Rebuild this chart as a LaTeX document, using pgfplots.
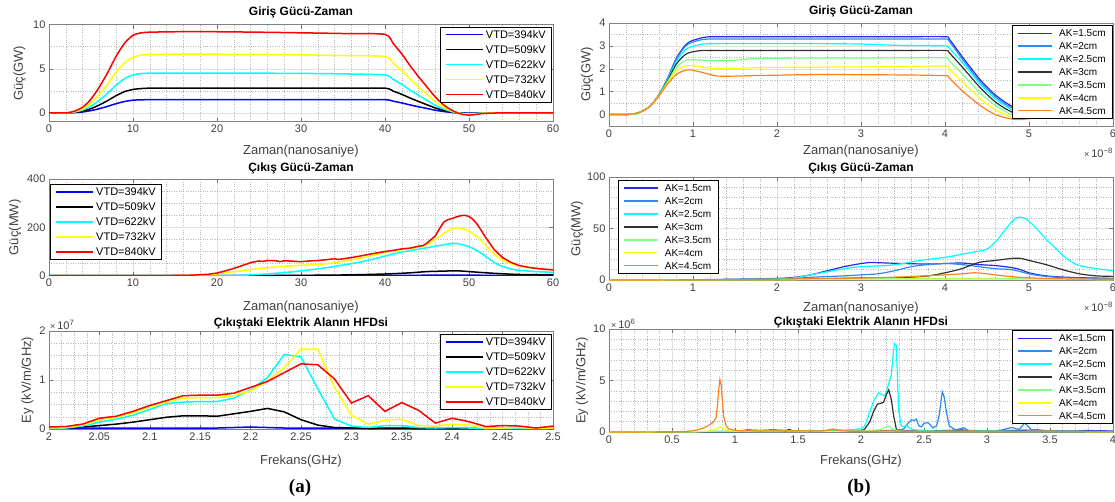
\documentclass[border=0pt]{standalone}
\usepackage{pgfplots}
\usepackage{pgfplotstable}
\pgfplotsset{compat=1.18}
\usepackage{fontspec}
\setmainfont{Liberation Sans}
\newfontfamily\serifbold{Liberation Serif}
\definecolor{tl}{HTML}{404040}
\definecolor{vB}{RGB}{0,0,255}
\definecolor{vK}{RGB}{0,0,0}
\definecolor{vC}{RGB}{0,255,255}
\definecolor{vY}{RGB}{255,255,0}
\definecolor{vR}{RGB}{255,0,0}
\definecolor{cA}{RGB}{40,40,245}
\definecolor{cB}{RGB}{40,140,240}
\definecolor{cC}{RGB}{0,255,255}
\definecolor{cD}{RGB}{50,50,50}
\definecolor{cE}{RGB}{128,255,128}
\definecolor{cF}{RGB}{255,255,0}
\definecolor{cG}{RGB}{255,128,30}

\pgfplotstableread{
t b k c y r
0 0 0 0 0 0
2 0 0 0 0 0
3 0.03 0.06 0.09 0.13 0.18
4 0.10 0.20 0.32 0.46 0.64
5 0.26 0.48 0.77 1.12 1.56
6 0.48 0.90 1.44 2.11 2.94
7 0.75 1.40 2.25 3.30 4.60
8 1.05 1.96 3.15 4.62 6.44
9 1.29 2.41 3.87 5.68 7.91
10 1.44 2.66 4.30 6.30 8.80
11 1.48 2.76 4.46 6.55 9.08
12 1.50 2.80 4.50 6.62 9.15
15 1.50 2.80 4.52 6.65 9.20
20 1.50 2.80 4.52 6.65 9.20
25 1.50 2.80 4.50 6.63 9.15
30 1.50 2.80 4.48 6.58 9.08
35 1.50 2.80 4.42 6.50 9.00
40 1.50 2.80 4.30 6.40 8.90
41 1.32 2.46 3.78 5.63 7.83
42 1.13 2.10 3.23 4.80 6.68
43 0.90 1.68 2.58 3.84 5.34
44 0.69 1.29 1.98 2.94 4.09
45 0.50 0.92 1.42 2.11 2.94
46 0.30 0.56 0.86 1.28 1.78
47 0.15 0.28 0.43 0.64 0.89
48 0.05 0.08 0.13 0.19 0.27
49 0.00 -0.03 -0.04 -0.06 -0.12
50 -0.02 -0.06 -0.09 -0.13 -0.25
51 -0.01 -0.03 -0.05 -0.07 -0.15
52 0 0 -0.01 -0.02 -0.05
54 0 0 0 0 0
60 0 0 0 0 0
}\tIn

\pgfplotstableread{
t a15 a2 a25 a3 a35 a4 a45
0 0 0 0 0 0 0 0
0.2 0 0 0 0 0 0 0
0.3 0.03 0.03 0.03 0.03 0.03 0.03 0.03
0.4 0.15 0.15 0.15 0.15 0.15 0.15 0.15
0.5 0.40 0.40 0.40 0.40 0.40 0.40 0.40
0.6 0.90 0.90 0.88 0.87 0.86 0.85 0.84
0.7 1.60 1.58 1.55 1.50 1.45 1.40 1.35
0.8 2.45 2.40 2.30 2.20 2.05 1.90 1.75
0.9 3.00 2.95 2.80 2.60 2.35 2.12 1.93
0.97 3.20 3.13 2.95 2.72 2.40 2.15 1.95
1.1 3.35 3.27 3.07 2.80 2.38 2.08 1.85
1.2 3.40 3.30 3.10 2.80 2.36 2.03 1.75
1.3 3.40 3.30 3.10 2.80 2.35 2.00 1.68
1.5 3.40 3.30 3.10 2.80 2.37 2.01 1.68
1.7 3.40 3.30 3.10 2.80 2.44 2.04 1.70
2 3.40 3.30 3.10 2.80 2.46 2.06 1.72
2.5 3.40 3.30 3.10 2.80 2.47 2.07 1.75
3 3.40 3.30 3.08 2.80 2.47 2.08 1.74
3.5 3.40 3.30 3.02 2.80 2.48 2.10 1.73
4 3.40 3.30 3.00 2.80 2.48 2.12 1.70
4.05 3.30 3.20 2.90 2.70 2.35 2.00 1.60
4.2 2.55 2.45 2.30 2.10 1.80 1.45 1.05
4.4 1.60 1.50 1.40 1.25 1.00 0.75 0.45
4.5 1.20 1.12 1.02 0.88 0.68 0.45 0.20
4.6 0.85 0.78 0.68 0.55 0.40 0.20 0.00
4.7 0.58 0.50 0.42 0.30 0.17 0.03 -0.12
4.8 0.35 0.28 0.20 0.10 -0.02 -0.15 -0.20
4.9 0.18 0.12 0.05 -0.05 -0.12 -0.20 -0.22
5.0 0.05 0.00 -0.05 -0.12 -0.15 -0.18 -0.17
5.1 -0.03 -0.06 -0.09 -0.12 -0.13 -0.13 -0.10
5.2 -0.05 -0.06 -0.07 -0.08 -0.08 -0.08 -0.05
5.4 -0.01 -0.02 -0.02 -0.02 -0.02 -0.02 -0.01
5.6 0 0 0 0 0 0 0
6 0 0 0 0 0 0 0
}\tInB

\pgfplotstableread{
f b k c y r
2.0000 0.02 0.01 0.01 0.02 0.04
2.0167 0.02 0.02 0.02 0.03 0.05
2.0333 0.02 0.04 0.06 0.08 0.10
2.0500 0.02 0.07 0.14 0.18 0.22
2.0667 0.02 0.10 0.20 0.24 0.26
2.0833 0.02 0.14 0.28 0.33 0.36
2.1000 0.02 0.19 0.40 0.45 0.48
2.1167 0.02 0.24 0.52 0.55 0.58
2.1333 0.02 0.27 0.55 0.63 0.68
2.1500 0.02 0.27 0.56 0.64 0.69
2.1667 0.02 0.26 0.56 0.64 0.69
2.1833 0.03 0.31 0.63 0.68 0.73
2.2000 0.04 0.36 0.80 0.78 0.85
2.2167 0.03 0.42 1.05 0.98 0.97
2.2333 0.02 0.35 1.52 1.25 1.15
2.2500 0.02 0.19 1.47 1.63 1.33
2.2667 0.02 0.08 0.82 1.63 1.31
2.2833 0.02 0.03 0.20 0.85 1.02
2.3000 0.02 0.02 0.06 0.28 0.53
2.3167 0.01 0.01 0.03 0.10 0.68
2.3333 0.01 0.02 0.07 0.18 0.36
2.3500 0.01 0.02 0.07 0.20 0.54
2.3667 0.01 0.01 0.03 0.07 0.38
2.3833 0.01 0.01 0.02 0.06 0.12
2.4000 0.01 0.01 0.03 0.10 0.22
2.4167 0.01 0.01 0.02 0.08 0.15
2.4333 0.01 0.01 0.01 0.01 0.05
2.4500 0.01 0.01 0.01 0.02 0.07
2.4667 0.01 0.01 0.01 0.03 0.06
2.4833 0.01 0.01 0.01 0.01 0.02
2.5000 0.01 0.01 0.01 0.02 0.06
}\tHL

\pgfplotsset{
  mat/.style={scale only axis, width=504pt, anchor=south west,
    axis line style={draw=black!50, line width=0.6pt},
    tick style={draw=black!55, line width=0.5pt}, tick align=inside,
    major tick length=4pt, minor tick length=0pt,
    grid=both,
    major grid style={draw=black!12, line width=0.5pt},
    minor grid style={draw=black!28, dotted, line width=0.5pt},
    ticklabel style={font=\fontsize{11}{13}\selectfont, text=tl},
    /pgf/number format/assume math mode=true,
    xlabel style={font=\fontsize{13}{15}\selectfont, text=tl, at={(axis description cs:0.5,0)}, anchor=center},
    ylabel style={font=\fontsize{13}{15}\selectfont, text=tl, anchor=center},
    title style={font=\bfseries\fontsize{12}{14}\selectfont, at={(axis description cs:0.5,1)}, anchor=center},
    legend cell align=left,
    scaled ticks=false,
  },
  legL/.style={legend style={line width=0.8pt, fill=white,
      font=\fontsize{11}{13}\selectfont, inner xsep=5pt, inner ysep=2.25pt,
      row sep=4.5pt, column sep=1pt,
      nodes={inner xsep=1pt, inner ysep=1pt, text height=8pt, text depth=0.5pt}},
    legend image code/.code={\draw[##1, line width=1.8pt] (0pt,0pt) -- (37pt,0pt);}},
  legR/.style={legend style={line width=0.8pt, fill=white,
      font=\fontsize{10}{12}\selectfont, inner xsep=5pt, inner ysep=3pt,
      row sep=3.2pt, column sep=4pt,
      nodes={inner xsep=2pt, inner ysep=1pt, text height=7.2pt, text depth=0.5pt}},
    legend image code/.code={\draw[##1, line width=1.5pt] (0pt,0pt) -- (34pt,0pt);}},
}

\begin{document}
\begin{tikzpicture}[x=1pt,y=1pt]
\useasboundingbox (0pt,0pt) rectangle (1115pt,501pt);

% ---------- Left row 1
\begin{axis}[mat, at={(49pt,379.3pt)}, height=97pt,
  xmin=0, xmax=60, ymin=-1, ymax=10,
  xtick={0,10,20,30,40,50,60}, ytick={0,5,10},
  minor x tick num=4, minor y tick num=1,
  title={Giriş Gücü-Zaman}, title style={yshift=6.7pt},
  xlabel={Zaman(nanosaniye)}, xlabel style={yshift=-29.5pt},
  ylabel={Güç(GW)}, ylabel style={at={(axis description cs:-0.0585,0.5)}},
  legL, legend style={at={(1,1)}, anchor=north east, xshift=-1pt, yshift=-2pt},
  every axis plot/.append style={line width=1.5pt, smooth, tension=0.4}]
\addplot[vB] table[x=t,y=b]{\tIn}; \addlegendentry{VTD=394kV}
\addplot[vK] table[x=t,y=k]{\tIn}; \addlegendentry{VTD=509kV}
\addplot[vC] table[x=t,y=c]{\tIn}; \addlegendentry{VTD=622kV}
\addplot[vY] table[x=t,y=y]{\tIn}; \addlegendentry{VTD=732kV}
\addplot[vR] table[x=t,y=r]{\tIn}; \addlegendentry{VTD=840kV}
\end{axis}

% ---------- Left row 2
\begin{axis}[mat, at={(49pt,225.3pt)}, height=96.7pt,
  xmin=0, xmax=60, ymin=0, ymax=400,
  xtick={0,10,20,30,40,50,60}, ytick={0,200,400},
  minor x tick num=4, minor y tick num=3,
  title={Çıkış Gücü-Zaman}, title style={yshift=5pt},
  xlabel={Zaman(nanosaniye)}, xlabel style={yshift=-31pt},
  ylabel={Güç(MW)}, ylabel style={at={(axis description cs:-0.0675,0.5)}},
  legL, legend style={at={(0,1)}, anchor=north west, xshift=1pt, yshift=-5pt},
  every axis plot/.append style={line width=1.5pt}]
\addplot[vB] coordinates {(0,0) (30,0.2) (40,1) (45,2) (50,2) (55,1.5) (60,1)}; \addlegendentry{VTD=394kV}
\addplot[vK,smooth] coordinates {(0,0) (20,0) (25,0.5) (30,1.5) (35,3) (40,7) (43,12) (45,17) (47,19) (48,20) (49,19.5) (50,17) (52,12) (54,8) (56,5) (58,4) (60,3)}; \addlegendentry{VTD=509kV}
\addplot[vC,smooth] coordinates {(0,0) (20,0.5) (23,2) (25,5) (27,10) (29,16) (31,24) (33,33) (35,44) (37,56) (39,72) (41,90) (43,104) (45,116) (47,128) (48,133) (48.5,134) (49,130) (50,120) (51,103) (52,80) (53,55) (54,38) (55,28) (56,22) (58,17) (60,14)}; \addlegendentry{VTD=622kV}
\addplot[vY,smooth] coordinates {(0,0) (15,0.5) (18,3) (20,8) (22,16) (24,25) (26,33) (28,39) (30,43) (32,46) (34,54) (36,66) (38,80) (40,96) (42,108) (44,118) (45,128) (46,150) (47,175) (48,195) (48.7,198) (49.5,192) (50,184) (51,160) (52,125) (53,90) (54,65) (55,50) (56,40) (58,30) (60,24)}; \addlegendentry{VTD=732kV}
\addplot[vR] coordinates {(0,0) (10,0) (14,0.5) (17,2) (19,6) (20,11) (21,20) (22,30) (23,42) (24,54) (25,61) (25.5,59) (26,63) (27,62) (27.5,58) (28,62) (29,60) (30,58) (31,61) (32,63) (33,66) (34,70) (34.5,67) (35,70) (36,75) (37,81) (38,88) (39,94) (40,100) (41,105) (42,111) (43,114) (44,122) (44.5,124) (45,135) (46,165) (46.5,195) (47,222) (47.5,232) (48,237) (48.5,243) (49,248) (49.5,250) (50,245) (50.5,232) (51,212) (51.5,185) (52,157) (53,108) (54,75) (55,55) (56,42) (57,35) (58,30) (59,27) (60,24)}; \addlegendentry{VTD=840kV}
\end{axis}

% ---------- Left row 3
\begin{axis}[mat, at={(49pt,72pt)}, height=98pt,
  xmin=2, xmax=2.5, ymin=0, ymax=2,
  xtick={2,2.05,2.1,2.15,2.2,2.25,2.3,2.35,2.4,2.45,2.5},
  xticklabels={2,2.05,2.1,2.15,2.2,2.25,2.3,2.35,2.4,2.45,2.5},
  ytick={0,1,2}, minor x tick num=3, minor y tick num=3,
  title={Çıkıştaki Elektrik Alanın HFDsi}, title style={yshift=2pt},
  xlabel={Frekans(GHz)}, xlabel style={yshift=-32pt},
  ylabel={Ey (kV/m/GHz)}, ylabel style={at={(axis description cs:-0.0427,0.5)}},
  legL, legend style={at={(1,1)}, anchor=north east, xshift=-1pt, yshift=-3pt},
  every axis plot/.append style={line width=1.5pt}]
\addplot[vB] table[x=f,y=b]{\tHL}; \addlegendentry{VTD=394kV}
\addplot[vK] table[x=f,y=k]{\tHL}; \addlegendentry{VTD=509kV}
\addplot[vC] table[x=f,y=c]{\tHL}; \addlegendentry{VTD=622kV}
\addplot[vY] table[x=f,y=y]{\tHL}; \addlegendentry{VTD=732kV}
\addplot[vR] table[x=f,y=r]{\tHL}; \addlegendentry{VTD=840kV}
\end{axis}

% ---------- Right row 1
\begin{axis}[mat, at={(609pt,375pt)}, height=103pt,
  xmin=0, xmax=6, ymin=-0.5, ymax=4,
  xtick={0,1,2,3,4,5,6}, ytick={0,1,2,3,4},
  minor x tick num=4, minor y tick num=1,
  title={Giriş Gücü-Zaman}, title style={yshift=5.5pt},
  xlabel={Zaman(nanosaniye)}, xlabel style={yshift=-25pt},
  ylabel={Güç(GW)}, ylabel style={at={(axis description cs:-0.0437,0.5)}},
  legR, legend style={at={(1,1)}, anchor=north east, xshift=0pt, yshift=-2pt},
  every axis plot/.append style={line width=1.2pt, smooth, tension=0.4}]
\addplot[cA] table[x=t,y=a15]{\tInB}; \addlegendentry{AK=1.5cm}
\addplot[cB] table[x=t,y=a2]{\tInB}; \addlegendentry{AK=2cm}
\addplot[cC] table[x=t,y=a25]{\tInB}; \addlegendentry{AK=2.5cm}
\addplot[cD] table[x=t,y=a3]{\tInB}; \addlegendentry{AK=3cm}
\addplot[cE] table[x=t,y=a35]{\tInB}; \addlegendentry{AK=3.5cm}
\addplot[cF] table[x=t,y=a4]{\tInB}; \addlegendentry{AK=4cm}
\addplot[cG] table[x=t,y=a45]{\tInB}; \addlegendentry{AK=4.5cm}
\end{axis}

% ---------- Right row 2
\begin{axis}[mat, at={(609pt,221pt)}, height=103pt,
  xmin=0, xmax=6, ymin=0, ymax=100,
  xtick={0,1,2,3,4,5,6}, ytick={0,50,100},
  minor x tick num=4, minor y tick num=4,
  title={Çıkış Gücü-Zaman}, title style={yshift=3pt},
  xlabel={Zaman(nanosaniye)}, xlabel style={yshift=-28pt},
  ylabel={Güç(MW)}, ylabel style={at={(axis description cs:-0.0635,0.5)}},
  legR, legend style={at={(0,1)}, anchor=north west, xshift=9pt, yshift=-3pt},
  every axis plot/.append style={line width=1.2pt, smooth}]
\addplot[cA] coordinates {(0,0) (1,0.3) (1.5,0.8) (2,1.5) (2.2,2.5) (2.4,5) (2.6,9) (2.8,13) (3.0,16) (3.1,17) (3.3,16.5) (3.5,16) (3.8,15.5) (4.0,16) (4.2,16.5) (4.4,15) (4.6,14) (4.8,12) (4.9,10) (5.0,7) (5.2,4) (5.5,2.5) (6,1.5)}; \addlegendentry{AK=1.5cm}
\addplot[cB] coordinates {(0,0) (1,0.2) (2,1) (2.5,3) (2.8,4) (3.0,5) (3.2,6) (3.4,9) (3.6,13) (3.8,15) (4.0,16) (4.2,15) (4.4,13) (4.6,11) (4.8,10) (5.0,6) (5.2,3.5) (5.5,2) (6,1.5)}; \addlegendentry{AK=2cm}
\addplot[cC] coordinates {(0,0) (1,0.2) (1.5,0.5) (2,1) (2.2,2) (2.4,5) (2.6,8) (2.8,11) (3.0,13) (3.3,14) (3.5,16) (3.7,19) (4.0,22) (4.2,25) (4.4,28) (4.5,30) (4.6,37) (4.7,47) (4.8,57) (4.87,61) (4.95,60) (5.0,57) (5.1,49) (5.2,40) (5.3,32) (5.4,24) (5.5,18) (5.6,14) (5.8,11) (6,9)}; \addlegendentry{AK=2.5cm}
\addplot[cD] coordinates {(0,0) (2,0.5) (2.5,1) (3,2) (3.5,2.5) (3.8,4) (4.0,7) (4.2,11) (4.4,17) (4.6,19) (4.8,21) (4.9,21) (5.0,19) (5.2,15) (5.4,10) (5.6,6) (5.8,4) (6,3.5)}; \addlegendentry{AK=3cm}
\addplot[cE] coordinates {(0,0) (2,0.5) (3,1) (4,1.5) (4.5,1.5) (5,1) (6,0.5)}; \addlegendentry{AK=3.5cm}
\addplot[cF] coordinates {(0,0) (2,0.3) (3,0.5) (4,0.8) (5,0.5) (6,0.3)}; \addlegendentry{AK=4cm}
\addplot[cG] coordinates {(0,0) (1,0.2) (2,0.8) (2.5,1.5) (3,2) (3.5,3) (4,5) (4.2,6) (4.35,7) (4.5,6) (4.7,4) (4.9,2.5) (5.2,1.5) (5.5,1) (6,0.7)}; \addlegendentry{AK=4.5cm}
\end{axis}

% ---------- Right row 3
\begin{axis}[mat, at={(609pt,69pt)}, height=103pt,
  xmin=0, xmax=4, ymin=0, ymax=10,
  xtick={0,0.5,1,1.5,2,2.5,3,3.5,4}, xticklabels={0,0.5,1,1.5,2,2.5,3,3.5,4},
  ytick={0,5,10}, minor x tick num=4, minor y tick num=4,
  title={Çıkıştaki Elektrik Alanın HFDsi}, title style={yshift=1pt},
  xlabel={Frekans(GHz)}, xlabel style={yshift=-29pt},
  ylabel={Ey (kV/m/GHz)}, ylabel style={at={(axis description cs:-0.0536,0.5)}},
  legR, legend style={at={(1,1)}, anchor=north east, xshift=0pt, yshift=-1pt},
  every axis plot/.append style={line width=1.2pt}]
\addplot[cA] coordinates {(0,0) (1,0.05) (1.1,0.2) (1.2,0.15) (1.3,0.2) (1.4,0.15) (1.5,0.1) (1.6,0.15) (1.7,0.1) (1.8,0.2) (1.9,0.1) (2,0.1) (2.3,0.15) (2.5,0.1) (2.7,0.15) (2.8,0.2) (2.9,0.1) (3.0,0.1) (3.2,0.15) (3.4,0.2) (3.5,0.1) (3.7,0.1) (3.8,0.15) (4,0.1)}; \addlegendentry{AK=1.5cm}
\addplot[cB] coordinates {(0,0) (1,0.03) (1.5,0.08) (2,0.08) (2.2,0.1) (2.3,0.2) (2.34,0.3) (2.37,0.8) (2.4,1.2) (2.42,1.1) (2.44,1.25) (2.46,0.6) (2.48,0.5) (2.5,0.85) (2.53,0.9) (2.55,0.7) (2.57,0.4) (2.6,0.6) (2.62,1.6) (2.645,3.9) (2.66,3.4) (2.68,1.8) (2.7,0.6) (2.75,0.2) (2.78,0.3) (2.82,0.4) (2.85,0.15) (3.0,0.1) (3.1,0.15) (3.2,0.45) (3.23,0.3) (3.26,0.3) (3.3,0.9) (3.33,0.5) (3.36,0.15) (3.5,0.1) (4,0.05)}; \addlegendentry{AK=2cm}
\addplot[cC] coordinates {(0,0) (1.0,0.05) (1.2,0.1) (1.5,0.1) (1.8,0.1) (1.9,0.2) (2.0,0.3) (2.03,0.6) (2.06,1.6) (2.1,3.0) (2.14,3.8) (2.17,3.6) (2.19,3.5) (2.22,4.7) (2.24,5.5) (2.255,7.5) (2.265,8.6) (2.28,8.4) (2.29,5.0) (2.3,2.0) (2.32,0.6) (2.34,0.5) (2.36,0.7) (2.38,0.4) (2.42,0.2) (2.6,0.1) (2.8,0.1) (3.0,0.1) (3.3,0.05) (4,0.05)}; \addlegendentry{AK=2.5cm}
\addplot[cD] coordinates {(0,0) (1,0.02) (1.4,0.1) (1.43,0.25) (1.46,0.1) (1.6,0.08) (1.8,0.08) (2.0,0.05) (2.03,0.3) (2.07,1.0) (2.1,2.0) (2.13,2.7) (2.16,2.8) (2.18,2.9) (2.2,3.6) (2.22,4.1) (2.24,3.2) (2.26,1.5) (2.28,0.3) (2.3,0.1) (2.5,0.05) (2.8,0.1) (3,0.05) (4,0.03)}; \addlegendentry{AK=3cm}
\addplot[cE] coordinates {(0,0) (1,0.05) (1.5,0.05) (2.0,0.1) (2.15,0.2) (2.2,0.5) (2.22,0.6) (2.25,0.3) (2.3,0.1) (2.5,0.05) (3,0.05) (4,0.03)}; \addlegendentry{AK=3.5cm}
\addplot[cF] coordinates {(0,0) (0.7,0.02) (0.8,0.1) (0.85,0.3) (0.88,0.5) (0.9,0.4) (0.95,0.15) (1.0,0.1) (1.5,0.1) (2,0.05) (2.5,0.05) (3,0.05) (4,0.03)}; \addlegendentry{AK=4cm}
\addplot[cG] coordinates {(0,0) (0.5,0.02) (0.6,0.05) (0.65,0.1) (0.7,0.2) (0.75,0.4) (0.8,0.7) (0.83,1.0) (0.85,1.4) (0.86,2.5) (0.87,4.0) (0.88,5.1) (0.89,4.6) (0.9,3.0) (0.91,1.5) (0.93,0.6) (0.95,0.3) (1.0,0.15) (1.05,0.1) (1.1,0.12) (1.2,0.08) (1.3,0.1) (1.4,0.08) (1.5,0.1) (1.6,0.08) (1.7,0.1) (1.78,0.3) (1.82,0.15) (1.9,0.08) (2.0,0.05) (2.2,0.1) (2.4,0.05) (2.6,0.05) (2.8,0.08) (3.0,0.05) (3.2,0.05) (3.5,0.08) (4,0.05)}; \addlegendentry{AK=4.5cm}
\end{axis}

% ---------- annotations
\node[anchor=east, font=\fontsize{11}{13}\selectfont, text=tl, inner sep=0pt] at (1113pt,348pt) {{\fontsize{9}{10}\selectfont×}\,10\textsuperscript{−8}};
\node[anchor=east, font=\fontsize{11}{13}\selectfont, text=tl, inner sep=0pt] at (1113pt,194pt) {{\fontsize{9}{10}\selectfont×}\,10\textsuperscript{−8}};
\node[anchor=base west, font=\fontsize{11}{13}\selectfont, text=tl, inner sep=0pt] at (50pt,172pt) {{\fontsize{9}{10}\selectfont×}\,10\textsuperscript{7}};
\node[anchor=base west, font=\fontsize{11}{13}\selectfont, text=tl, inner sep=0pt] at (611pt,173pt) {{\fontsize{9}{10}\selectfont×}\,10\textsuperscript{6}};
\node[font=\serifbold\bfseries\fontsize{19}{21}\selectfont] at (300pt,13pt) {(a)};
\node[font=\serifbold\bfseries\fontsize{19}{21}\selectfont] at (859pt,13pt) {(b)};
\end{tikzpicture}
\end{document}
